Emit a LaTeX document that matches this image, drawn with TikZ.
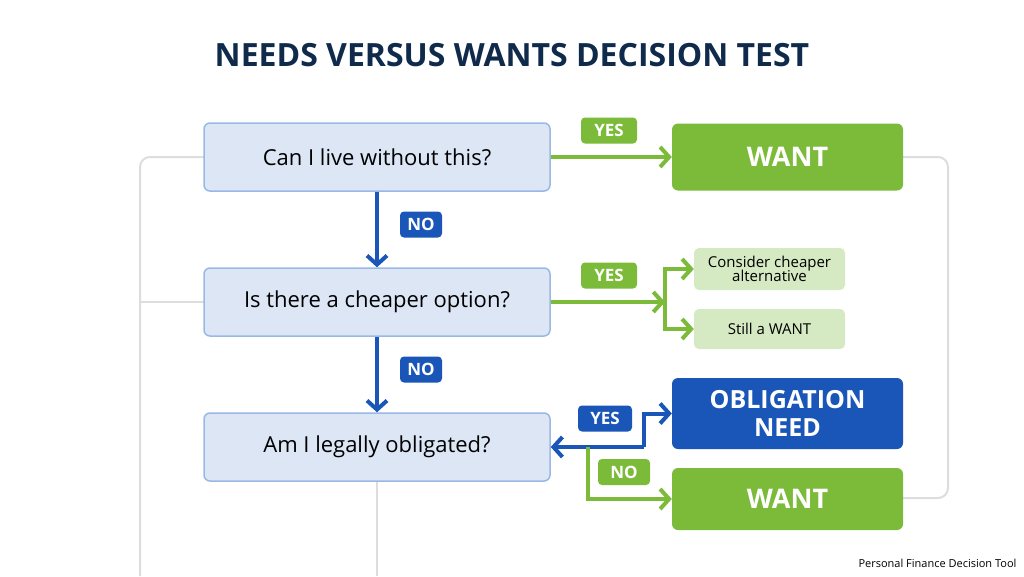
\documentclass[tikz,border=0pt]{standalone}
\usepackage{fontspec}
\setmainfont{Open Sans}
\usetikzlibrary{arrows.meta}
\definecolor{qfill}{HTML}{DCE6F5}
\definecolor{qdraw}{HTML}{9AB8E6}
\definecolor{gr}{HTML}{7CBB3A}
\definecolor{lgr}{HTML}{D5E9C2}
\definecolor{bl}{HTML}{1A56B8}
\definecolor{navy}{HTML}{0F2A4A}
\definecolor{bg}{HTML}{DDDDDD}
\begin{document}
\begin{tikzpicture}[x=1pt,y=-1pt,
 q/.style={draw=qdraw,line width=1.5pt,fill=qfill,rounded corners=6pt,minimum width=346pt,minimum height=68pt,font=\fontsize{22}{26}\selectfont,text=black},
 big/.style={rounded corners=6pt,minimum width=231pt,text=white,font=\bfseries\fontsize{27}{31}\selectfont,align=center},
 small/.style={fill=lgr,rounded corners=5pt,minimum width=151pt,font=\fontsize{15}{17}\selectfont,align=center,text=black},
 lab/.style={rounded corners=4pt,text=white,font=\bfseries\fontsize{17}{19}\selectfont,inner sep=3pt,minimum height=26pt},
 garr/.style={draw=gr,line width=4pt,-{Straight Barb[length=9pt,width=20pt]}},
 barr/.style={draw=bl,line width=4pt,-{Straight Barb[length=9pt,width=20pt]}},
 bgl/.style={draw=bg,line width=2pt,rounded corners=10pt}]
\fill[white] (0,0) rectangle (1024,576);
\useasboundingbox (0,0) rectangle (1024,576);
\node[font=\bfseries\fontsize{32}{36}\selectfont,text=navy] (title) at (512,55) {NEEDS VERSUS WANTS DECISION TEST};
\coordinate (bl1) at (140,576); \coordinate (bl2) at (377,576);
\draw[bgl] (204,157) -- (140,157) -- (bl1);
\draw[bgl] (140,302) -- (204,302);
\draw[bgl] (377,482) -- (bl2);
\draw[bgl] (903,157) -- (948,157) -- (948,498) -- (903,498);
\node[q] (q1) at (377,157) {Can I live without this?};
\node[q] (q2) at (377,302) {Is there a cheaper option?};
\node[q] (q3) at (377,447) {Am I legally obligated?};
\node[big,fill=gr,minimum height=67pt] (w1) at (787.5,157) {WANT};
\node[small,minimum height=42pt] (c1) at (769.5,269) {Consider cheaper\\[-3pt]alternative};
\node[small,minimum height=40pt] (c2) at (769.5,329) {Still a WANT};
\node[big,fill=bl,minimum height=71pt,font=\bfseries\fontsize{25}{28}\selectfont] (ob) at (787.5,413.5) {OBLIGATION\\NEED};
\node[big,fill=gr,minimum height=62pt] (w2) at (787.5,499) {WANT};
\draw[barr] (q1) -- (q2);
\draw[barr] (q2) -- (q3);
\draw[garr] (q1) -- (w1);
\coordinate (f) at (665,302);
\draw[draw=gr,line width=4pt] (q2.east) -- (f);
\draw[garr] (f) |- (c1.west);
\draw[garr] (f) |- (c2.west);
\draw[garr] (655,302) -- (f);
\coordinate (bj) at (644,447);
\draw[barr] (bj) -- (q3.east);
\draw[barr] (bj) |- (ob.west);
\draw[garr] (588,447) |- (w2.west);
\node[lab,fill=bl,minimum width=42pt] (n1) at (421,224.5) {NO};
\node[lab,fill=bl,minimum width=42pt] (n2) at (421,369.5) {NO};
\node[lab,fill=gr,minimum width=56pt] (y1) at (609,130.5) {YES};
\node[lab,fill=gr,minimum width=56pt] (y2) at (609,275.5) {YES};
\node[lab,fill=bl,minimum width=54pt] (y3) at (605,418.5) {YES};
\node[lab,fill=gr,minimum width=52pt] (n3) at (624,472) {NO};
\node[anchor=east,font=\fontsize{11}{13}\selectfont] (foot) at (1020,563) {Personal Finance Decision Tool};
\end{tikzpicture}
\end{document}
